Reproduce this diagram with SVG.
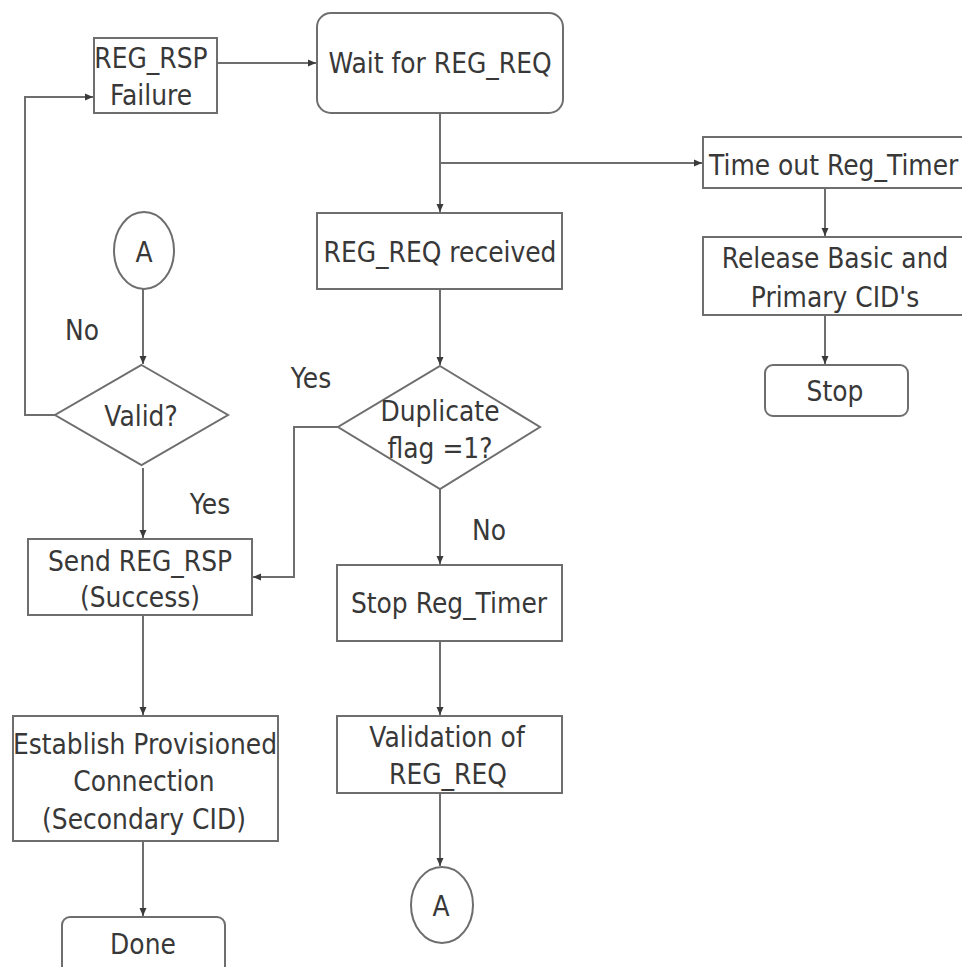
<svg xmlns="http://www.w3.org/2000/svg" width="962" height="967" viewBox="0 0 962 967">
  <style>
    .box { fill: #ffffff; stroke: #6e6e6e; stroke-width: 2; }
    .wire { fill: none; stroke: #6e6e6e; stroke-width: 2; }
    .t { font-family: "DejaVu Sans", "Liberation Sans", sans-serif; font-size: 25px; fill: #383838; text-anchor: middle;
         transform-box: fill-box; transform-origin: center; transform: scaleY(1.1); }
    .ts { text-anchor: start; }
  </style>
  <defs>
    <marker id="arrow" viewBox="0 0 8 8" refX="8" refY="4" markerWidth="8" markerHeight="8" markerUnits="userSpaceOnUse" orient="auto">
      <path d="M0,0.5 L8,4 L0,7.5 z" fill="#3a3a3a"/>
    </marker>
  </defs>
  <rect width="962" height="967" fill="#ffffff"/>

  <!-- connectors and their branch labels -->
  <g id="connectors">
    <path class="wire" d="M217,63 H316" marker-end="url(#arrow)"/>
    <path class="wire" d="M440,113 V212" marker-end="url(#arrow)"/>
    <path class="wire" d="M440,163 H702" marker-end="url(#arrow)"/>
    <path class="wire" d="M825,188 V236" marker-end="url(#arrow)"/>
    <path class="wire" d="M825,315 V364" marker-end="url(#arrow)"/>
    <path class="wire" d="M440,289 V365" marker-end="url(#arrow)"/>
    <path class="wire" d="M338,427 H294 V577 H253" marker-end="url(#arrow)"/>
    <path class="wire" d="M440,489 V564" marker-end="url(#arrow)"/>
    <path class="wire" d="M440,641 V715" marker-end="url(#arrow)"/>
    <path class="wire" d="M440,793 V866" marker-end="url(#arrow)"/>
    <path class="wire" d="M143,289 V364" marker-end="url(#arrow)"/>
    <path class="wire" d="M55,415 H25 V97 H93" marker-end="url(#arrow)"/>
    <path class="wire" d="M143,468 V538" marker-end="url(#arrow)"/>
    <path class="wire" d="M143,615 V715" marker-end="url(#arrow)"/>
    <path class="wire" d="M143,841 V916" marker-end="url(#arrow)"/>
    <text class="t" x="82" y="339">No</text>
    <text class="t" x="311" y="387">Yes</text>
    <text class="t" x="210" y="513">Yes</text>
    <text class="t" x="489" y="539">No</text>
  </g>

  <g id="reg-rsp-failure">
    <rect class="box" x="94" y="38" width="123" height="75"/>
    <text class="t" x="151" y="67">REG_RSP</text>
    <text class="t" x="151" y="104">Failure</text>
  </g>

  <g id="wait-reg-req">
    <rect class="box" x="317" y="13" width="246" height="100" rx="14"/>
    <text class="t" x="440" y="72">Wait for REG_REQ</text>
  </g>

  <g id="timeout">
    <rect class="box" x="703" y="137" width="280" height="51"/>
    <text class="t ts" x="709" y="174">Time out Reg_Timer</text>
  </g>

  <g id="release">
    <rect class="box" x="703" y="237" width="280" height="78"/>
    <text class="t" x="835" y="267">Release Basic and</text>
    <text class="t" x="835" y="306">Primary CID's</text>
  </g>

  <g id="stop-end">
    <rect class="box" x="765" y="365" width="143" height="51" rx="8"/>
    <text class="t" x="835" y="400">Stop</text>
  </g>

  <g id="reg-req-received">
    <rect class="box" x="317" y="213" width="245" height="76"/>
    <text class="t" x="440" y="261">REG_REQ received</text>
  </g>

  <g id="connector-a-top">
    <ellipse class="box" cx="144" cy="250.5" rx="30" ry="38.5"/>
    <text class="t" x="144" y="261">A</text>
  </g>

  <g id="valid">
    <polygon class="box" points="141.5,365 228,415 141.5,465 55,415"/>
    <text class="t" x="141" y="425">Valid?</text>
  </g>

  <g id="duplicate">
    <polygon class="box" points="440,366 540,427 440,489 338,427"/>
    <text class="t" x="440" y="420">Duplicate</text>
    <text class="t" x="440" y="457">flag =1?</text>
  </g>

  <g id="send-reg-rsp">
    <rect class="box" x="28" y="539" width="224" height="76"/>
    <text class="t" x="140" y="570">Send REG_RSP</text>
    <text class="t" x="140" y="606">(Success)</text>
  </g>

  <g id="stop-reg-timer">
    <rect class="box" x="337" y="565" width="225" height="76"/>
    <text class="t" x="449" y="612">Stop Reg_Timer</text>
  </g>

  <g id="validation">
    <rect class="box" x="337" y="716" width="225" height="77"/>
    <text class="t" x="447" y="746">Validation of</text>
    <text class="t" x="448" y="783">REG_REQ</text>
  </g>

  <g id="connector-a-bottom">
    <ellipse class="box" cx="442" cy="905" rx="31" ry="38"/>
    <text class="t" x="441" y="915">A</text>
  </g>

  <g id="establish">
    <rect class="box" x="13" y="716" width="265" height="125"/>
    <text class="t" x="145" y="753">Establish Provisioned</text>
    <text class="t" x="144" y="790">Connection</text>
    <text class="t" x="144" y="828">(Secondary CID)</text>
  </g>

  <g id="done">
    <rect class="box" x="62" y="917" width="163" height="60" rx="8"/>
    <text class="t" x="143" y="953">Done</text>
  </g>
</svg>
